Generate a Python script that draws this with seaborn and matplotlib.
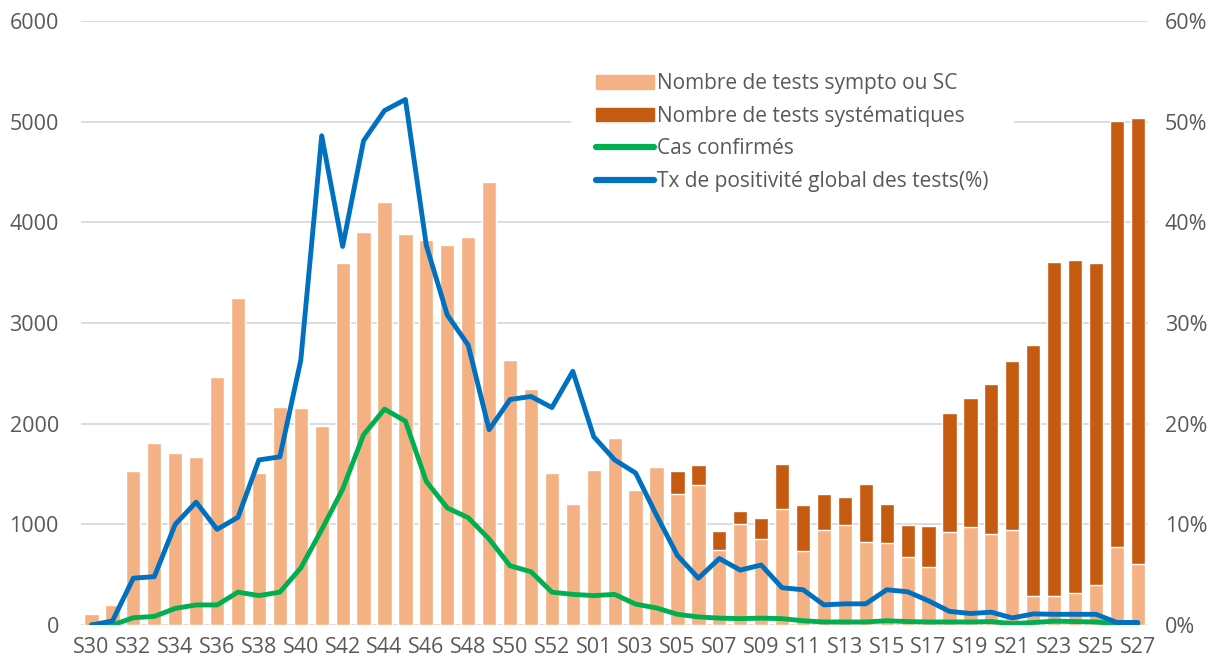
# Tests et positivité par semaine (S30 2020 -> S27 2021)
import numpy as np
import seaborn as sns
import matplotlib.pyplot as plt
from matplotlib.patches import Patch
from matplotlib.lines import Line2D

# Semaines
weeks = ['S%02d' % w for w in range(30, 54)] + ['S%02d' % w for w in range(1, 28)]

# Nombre de tests sympto ou SC
sympto = [114, 199, 1531, 1805, 1712, 1670, 2461, 3252, 1510, 2165,
          2156, 1975, 3598, 3907, 4199, 3886, 3822, 3772, 3856, 4402,
          2630, 2347, 1514, 1205, 1535, 1860, 1340, 1569, 1298, 1395,
          744, 1002, 854, 1150, 736, 943, 994, 820, 812, 672,
          571, 926, 972, 900, 939, 292, 283, 313, 397, 770, 609]

# Nombre total de tests (sympto + systématiques)
total = [114, 199, 1531, 1805, 1712, 1670, 2461, 3252, 1510, 2165,
         2156, 1975, 3598, 3907, 4199, 3886, 3822, 3772, 3856, 4402,
         2630, 2347, 1514, 1205, 1535, 1860, 1340, 1569, 1526, 1586,
         934, 1137, 1061, 1603, 1192, 1306, 1268, 1404, 1201, 989,
         981, 2110, 2258, 2397, 2621, 2778, 3607, 3624, 3594, 5002, 5032]

# Cas confirmés
cas = [0, 0, 72, 85, 165, 199, 199, 326, 292, 326,
       567, 947, 1349, 1890, 2144, 2025, 1425, 1163, 1066, 854,
       588, 529, 326, 304, 292, 304, 207, 169, 106, 80,
       68, 63, 68, 63, 42, 30, 30, 30, 42, 34,
       30, 30, 30, 34, 13, 25, 38, 34, 30, 13, 13]

# Taux de positivité global des tests (%)
taux = [0.0, 0.4, 4.65, 4.8, 10.0, 12.2, 9.5, 10.7, 16.4, 16.7,
        26.3, 48.6, 37.6, 48.1, 51.1, 52.2, 37.7, 30.8, 27.8, 19.4,
        22.4, 22.7, 21.6, 25.2, 18.7, 16.4, 15.1, 10.9, 6.9, 4.65,
        6.6, 5.45, 5.96, 3.7, 3.5, 2.0, 2.1, 2.1, 3.5, 3.3,
        2.4, 1.35, 1.14, 1.27, 0.7, 1.1, 1.06, 1.06, 1.06, 0.25, 0.25]

labels = ['Nombre de tests sympto ou SC', 'Nombre de tests systématiques',
          'Cas confirmés', 'Tx de positivité global des tests(%)']

light = '#F4B183'
dark = '#C55A11'
green = '#00B050'
blue = '#0070C0'
grey = '#595959'

sns.set_theme(style='white')
plt.rcParams['font.family'] = ['Open Sans', 'DejaVu Sans']

fig = plt.figure(figsize=(12.19, 6.68), dpi=100)
ax = fig.add_axes([0.0665, 0.0644, 0.8755, 0.9042])
x = np.arange(len(weeks))

# Stacked bars: total in dark, sympto overlaid in light
sns.barplot(x=weeks, y=total, color=dark, saturation=1, width=0.68, ax=ax)
sns.barplot(x=weeks, y=sympto, color=light, saturation=1, width=0.68, ax=ax)
sns.lineplot(x=x, y=cas, color=green, lw=3.5, ax=ax,
             solid_joinstyle='round', solid_capstyle='round')

ax2 = ax.twinx()
sns.lineplot(x=x, y=taux, color=blue, lw=3.5, ax=ax2,
             solid_joinstyle='round', solid_capstyle='round')

ax.set_xlim(-0.5, len(weeks) - 0.5)
ax.set_ylim(0, 6000)
ax2.set_ylim(0, 60)
ax.set_yticks(range(0, 6001, 1000))
ax2.set_yticks(range(0, 61, 10))
ax2.set_yticklabels(['%d%%' % v for v in range(0, 61, 10)])
ax.set_xticks(x[::2])
ax.set_xticklabels(weeks[::2])
ax.set_xlabel('')
ax.set_ylabel('')
ax2.set_ylabel('')

ax.yaxis.grid(True, color='#D9D9D9', lw=1.3)
ax.set_axisbelow(True)
for a in (ax, ax2):
    for s in a.spines.values():
        s.set_visible(False)
ax.tick_params(axis='y', length=0, pad=16, labelsize=15.5, labelcolor=grey)
ax.tick_params(axis='x', length=0, pad=9, labelsize=15.5, labelcolor=grey)
ax2.tick_params(axis='y', length=0, pad=12, labelsize=15.5, labelcolor=grey)

handles = [Patch(color=light), Patch(color=dark),
           Line2D([], [], color=green, lw=4.5, solid_capstyle='round'),
           Line2D([], [], color=blue, lw=4.5, solid_capstyle='round')]
leg = ax2.legend(handles, labels, loc='upper left', bbox_to_anchor=(0.449, 0.972),
                 frameon=True, facecolor='white', edgecolor='none', framealpha=1,
                 fontsize=15, labelcolor=grey, handlelength=2.8, handleheight=0.6,
                 handletextpad=0.15, labelspacing=0.55, borderpad=1.2)

fig.savefig('out.png', dpi=100)
